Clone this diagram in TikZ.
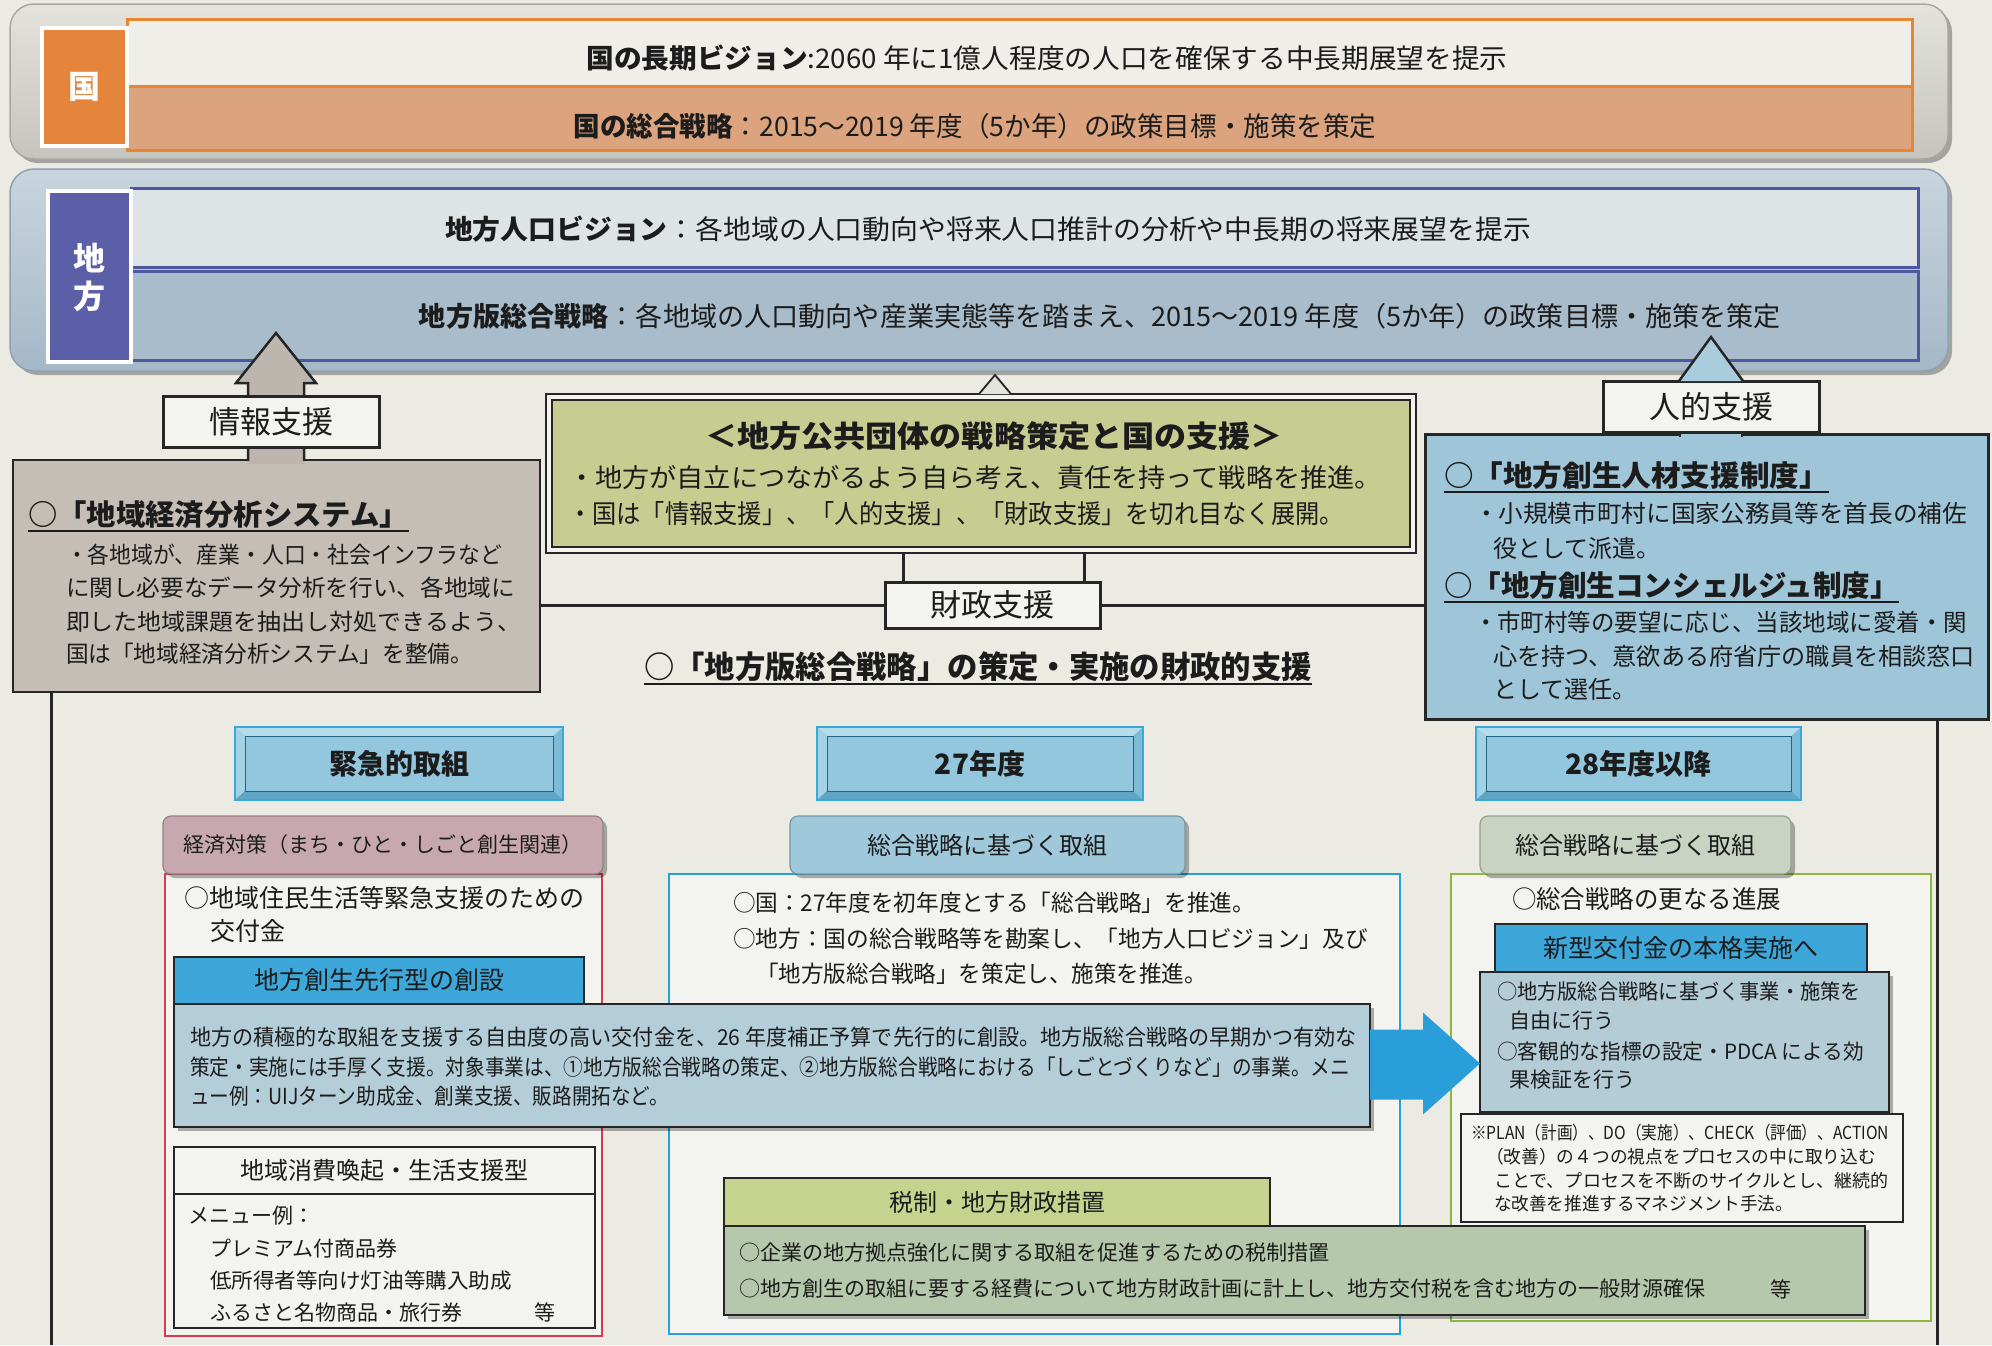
\documentclass[tikz,border=0pt]{standalone}
\usepackage{fontspec}
\usepackage{graphicx}
\setmainfont{Noto Sans CJK JP}
\usetikzlibrary{calc,fit,shadows}
\definecolor{paper}{HTML}{ECEBE3}
\definecolor{ink}{HTML}{1C1C1C}
\definecolor{dark}{HTML}{262626}
\definecolor{kpanelA}{HTML}{E4E2DC}
\definecolor{kpanelB}{HTML}{C6C4BE}
\definecolor{kpanelD}{HTML}{A9A7A2}
\definecolor{kwhite}{HTML}{EFEEE8}
\definecolor{korange}{HTML}{DCA47E}
\definecolor{orangeline}{HTML}{E8852F}
\definecolor{orangelbl}{HTML}{E5843B}
\definecolor{cpanelA}{HTML}{C8D5DE}
\definecolor{cpanelB}{HTML}{A5B8C8}
\definecolor{cpanelD}{HTML}{8DA1B3}
\definecolor{cwhite}{HTML}{DEE4E5}
\definecolor{cblue}{HTML}{A8BCCB}
\definecolor{cline}{HTML}{4D58A0}
\definecolor{purplelbl}{HTML}{5A5FA8}
\definecolor{graybox}{HTML}{C5BEB6}
\definecolor{grayarrow}{HTML}{BDB6AE}
\definecolor{greenbox}{HTML}{C7CD90}
\definecolor{tri}{HTML}{E4E6DC}
\definecolor{bluebox}{HTML}{9EC6D8}
\definecolor{jintri}{HTML}{A9CDDC}
\definecolor{btnouter}{HTML}{7DBAD6}
\definecolor{btnhi}{HTML}{B4DCEC}
\definecolor{btnlo}{HTML}{5FA6C6}
\definecolor{btninner}{HTML}{93C7DD}
\definecolor{btnborder}{HTML}{3AA8D9}
\definecolor{keizai}{HTML}{C8A8AF}
\definecolor{sogoA}{HTML}{9FC9DB}
\definecolor{sogoB}{HTML}{C8D3C4}
\definecolor{redline}{HTML}{D33C4E}
\definecolor{blueline}{HTML}{22A1DC}
\definecolor{greenline}{HTML}{8DB83E}
\definecolor{barblue}{HTML}{3DA7D9}
\definecolor{bigbox}{HTML}{B3CED8}
\definecolor{arrowblue}{HTML}{2A9ED8}
\definecolor{taxhd}{HTML}{C5D38E}
\definecolor{taxbox}{HTML}{B6C8AB}
\definecolor{boxB}{HTML}{B4CCD6}
\definecolor{notefill}{HTML}{F3F3EF}
\newcommand{\fsz}[1]{\fontsize{#1pt}{#1pt}\selectfont}
\newcommand{\fw}[2]{\resizebox{#1pt}{\height}{#2}}
\newcommand{\hbtn}[6]{%
  \fill[btnouter] (#2,#3) rectangle (#4,#5);
  \fill[btnhi] (#2,#3) -- (#4,#3) -- (#4-10,#3+9) -- (#2+10,#3+9) -- cycle;
  \fill[btnhi!70!btnouter] (#2,#3) -- (#2+10,#3+9) -- (#2+10,#5-9) -- (#2,#5) -- cycle;
  \fill[btnlo] (#2,#5) -- (#4,#5) -- (#4-10,#5-9) -- (#2+10,#5-9) -- cycle;
  \fill[btninner] (#2+10,#3+9) rectangle (#4-10,#5-9);
  \draw[btnborder, line width=2.5pt] (#2,#3) rectangle (#4,#5);
  \draw[btnborder!60!black, line width=0.6pt] (#2+10,#3+9) rectangle (#4-10,#5-9);
  \node[font=\fsz{28}\bfseries, text=ink] (#1) at ({(#2+#4)/2},{(#3+#5)/2}) {#6};
}
\begin{document}
\begin{tikzpicture}[x=1pt,y=-1pt,
  every node/.style={inner sep=0pt,outer sep=0pt},
  txt/.style={anchor=west,text=ink},
  ctr/.style={text=ink},
  conn/.style={draw=dark,line width=3pt},
  shd/.style={drop shadow={shadow xshift=4pt,shadow yshift=-4pt,fill=black,opacity=0.3}},
  lblbox/.style={fill=notefill,draw=dark,line width=3pt}]
\path[use as bounding box] (0,0) rectangle (1992,1345);
\fill[paper] (0,0) rectangle (1992,1345);

% ---------- 国 panel
\node[fit={(10,4)(1948,159)}, rounded corners=24pt, top color=kpanelA, bottom color=kpanelB, draw=kpanelD, line width=1.5pt, shd] (kunipanel) {};
\node[fit={(127,19)(1912,86)}, fill=kwhite, draw=orangeline, line width=3pt] (kunivision) {};
\node[fit={(127,86)(1912,150)}, fill=korange, draw=orangeline, line width=3pt] (kunisenryaku) {};
\node[fit={(42,28)(127,146)}, fill=orangelbl, draw=white, line width=4pt] (kunilbl) {};
\node[text=white, font=\fsz{32}\bfseries] (kunilblT) at (kunilbl.center) {国};
\node[ctr, font=\fsz{27}] (t1) at (1047,58) {\fw{921}{\textbf{国の長期ビジョン}:2060 年に1億人程度の人口を確保する中長期展望を提示}};
\node[ctr, font=\fsz{27}] (t2) at (975,126) {\fw{803}{\textbf{国の総合戦略}：2015～2019 年度（5か年）の政策目標・施策を策定}};

% ---------- 地方 panel
\node[fit={(10,169)(1948,371)}, rounded corners=24pt, top color=cpanelA, bottom color=cpanelB, draw=cpanelD, line width=1.5pt, shd] (chihopanel) {};
\node[fit={(131,188)(1918,267)}, fill=cwhite, draw=cline, line width=3pt] (chihovision) {};
\node[fit={(131,271)(1918,360)}, fill=cblue, draw=cline, line width=3pt] (chihosenryaku) {};
\node[fit={(48,191)(131,362)}, fill=purplelbl, draw=white, line width=4pt] (chiholbl) {};
\node[text=white, font=\fsz{32}\bfseries] (chiholblA) at (89,258) {地};
\node[text=white, font=\fsz{32}\bfseries] (chiholblB) at (89,296) {方};
\node[ctr, font=\fsz{27}] (t3) at (988,229) {\fw{1086}{\textbf{地方人口ビジョン}：各地域の人口動向や将来人口推計の分析や中長期の将来展望を提示}};
\node[ctr, font=\fsz{27}] (t4) at (1100,316) {\fw{1362}{\textbf{地方版総合戦略}：各地域の人口動向や産業実態等を踏まえ、2015～2019 年度（5か年）の政策目標・施策を策定}};

% ---------- 地域経済分析システム box
\node[fit={(13,460)(540,692)}, fill=graybox, draw=dark, line width=2.5pt] (chiiki) {};
\node[fit={(163,396)(379,447)}, draw=none] (infopos) {};
\fill[grayarrow] ($(infopos.north)+(-23,68)$) -- ($(infopos.north)+(-23,-13)$) -- ($(infopos.north)+(-35,-13)$) -- ($(infopos.north)+(5,-63)$) -- ($(infopos.north)+(45,-13)$) -- ($(infopos.north)+(33,-13)$) -- ($(infopos.north)+(33,68)$) -- cycle;
\draw[dark, line width=2.5pt] ($(infopos.north)+(-23,65)$) -- ($(infopos.north)+(-23,-13)$) -- ($(infopos.north)+(-35,-13)$) -- ($(infopos.north)+(5,-63)$) -- ($(infopos.north)+(45,-13)$) -- ($(infopos.north)+(33,-13)$) -- ($(infopos.north)+(33,65)$);
\node[fit={(163,396)(379,447)}, lblbox] (info) {};
\node[ctr, font=\fsz{31}] (infoT) at (info.center) {情報支援};
\node[txt, font=\fsz{29}\bfseries] (g0) at (28,515) {\fw{381}{○「地域経済分析システム」}};
\draw[ink, line width=2pt] ($(g0.south west)+(0,2)$) -- ($(g0.south east)+(0,2)$);
\node[txt, font=\fsz{23}] (g1) at (66,555) {\fw{436}{・各地域が、産業・人口・社会インフラなど}};
\node[txt, font=\fsz{23}] (g2) at (66,588) {\fw{449}{に関し必要なデータ分析を行い、各地域に}};
\node[txt, font=\fsz{23}] (g3) at (66,622) {\fw{455}{即した地域課題を抽出し対処できるよう、}};
\node[txt, font=\fsz{23}] (g4) at (66,654) {\fw{407}{国は「地域経済分析システム」を整備。}};

% ---------- 戦略策定 box
\node[fit={(546,394)(1416,553)}, fill=notefill, draw=dark, line width=2.5pt] (senryaku) {};
\filldraw[fill=greenbox, draw=dark, line width=2pt] ($(senryaku.north west)+(6,6)$) rectangle ($(senryaku.south east)+(-6,-6)$);
\filldraw[fill=tri, draw=dark, line width=1.8pt] ($(senryaku.north)+(-2,0)$) -- ($(senryaku.north)+(14,-19)$) -- ($(senryaku.north)+(30,0)$);
\node[ctr, font=\fsz{30}\bfseries] (s0) at (994,436) {\fw{578}{＜地方公共団体の戦略策定と国の支援＞}};
\node[txt, font=\fsz{26}] (s1) at (568,478) {\fw{814}{・地方が自立につながるよう自ら考え、責任を持って戦略を推進。}};
\node[txt, font=\fsz{26}] (s2) at (568,514) {\fw{776}{・国は「情報支援」、「人的支援」、「財政支援」を切れ目なく展開。}};

% ---------- 人的支援 box
\node[fit={(1425,434)(1988,719)}, fill=bluebox, draw=dark, line width=3pt] (jinzai) {};
\node[fit={(1603,381)(1819,432)}, lblbox] (jinteki) {};
\node[ctr, font=\fsz{31}] (jintekiT) at (jinteki.center) {人的支援};
\filldraw[fill=jintri, draw=dark, line width=2.5pt] ($(jinteki.north)+(-32,0)$) -- ($(jinteki.north)+(0,-44)$) -- ($(jinteki.north)+(32,0)$);
\fill[bluebox] ($(jinteki.south)+(-30,2)$) rectangle ($(jinteki.south)+(30,8)$);
\draw[dark, line width=2pt] ($(jinteki.south)+(-31,1)$) -- ($(jinteki.south)+(-31,5)$) ($(jinteki.south)+(31,1)$) -- ($(jinteki.south)+(31,5)$);
\node[txt, font=\fsz{29}\bfseries] (b0) at (1444,476) {\fw{385}{○「地方創生人材支援制度」}};
\draw[ink, line width=2pt] ($(b0.south west)+(0,2)$) -- ($(b0.south east)+(0,2)$);
\node[txt, font=\fsz{24}] (b1) at (1474,513) {\fw{493}{・小規模市町村に国家公務員等を首長の補佐}};
\node[txt, font=\fsz{24}] (b2) at (1493,548) {役として派遣。};
\node[txt, font=\fsz{29}\bfseries] (b3) at (1444,586) {\fw{455}{○「地方創生コンシェルジュ制度」}};
\draw[ink, line width=2pt] ($(b3.south west)+(0,2)$) -- ($(b3.south east)+(0,2)$);
\node[txt, font=\fsz{24}] (b4) at (1474,622) {\fw{493}{・市町村等の要望に応じ、当該地域に愛着・関}};
\node[txt, font=\fsz{24}] (b5) at (1493,656) {\fw{482}{心を持つ、意欲ある府省庁の職員を相談窓口}};
\node[txt, font=\fsz{24}] (b6) at (1493,689) {として選任。};

% ---------- 財政支援
\node[fit={(885,582)(1100,628)}, lblbox] (zaisei) {};
\node[ctr, font=\fsz{31}] (zaiseiT) at (zaisei.center) {財政支援};
\coordinate (zv1) at ($(zaisei.north west)+(18,0)$);
\coordinate (zv2) at ($(zaisei.north east)+(-16,0)$);
\draw[conn] (zv1) -- (zv1 |- senryaku.south);
\draw[conn] (zv2) -- (zv2 |- senryaku.south);
\draw[conn] (zaisei.west) -- (zaisei.west -| chiiki.east);
\draw[conn] (zaisei.east) -- (zaisei.east -| jinzai.west);
\coordinate (lvEnd) at (51,1345);
\coordinate (rvEnd) at (1937,1345);
\draw[conn] (lvEnd |- chiiki.south) -- (lvEnd);
\draw[conn] (rvEnd |- jinzai.south) -- (rvEnd);
\node[ctr, font=\fsz{31}\bfseries] (hd) at (978,667) {\fw{668}{○「地方版総合戦略」の策定・実施の財政的支援}};
\draw[ink, line width=2pt] ($(hd.south west)+(0,2)$) -- ($(hd.south east)+(0,2)$);

% ---------- column headers
\hbtn{kinkyu}{235}{727}{563}{800}{緊急的取組}
\hbtn{nendoA}{817}{727}{1143}{800}{27年度}
\hbtn{nendoB}{1476}{727}{1801}{800}{28年度以降}

% ---------- column boxes
\node[fit={(165,874)(602,1336)}, fill=notefill, draw=redline, line width=2pt] (colA) {};
\node[fit={(669,874)(1400,1334)}, fill=notefill, draw=blueline, line width=2.5pt] (colB) {};
\node[fit={(1451,874)(1931,1321)}, fill=notefill, draw=greenline, line width=2.5pt] (colC) {};
\node[fit={(163,816)(603,874)}, rounded corners=8pt, fill=keizai, draw=keizai!75!black, line width=1.2pt, shd] (keizaiN) {};
\node[ctr, font=\fsz{21}] (keizaiT) at (keizaiN.center) {\fw{398}{経済対策（まち・ひと・しごと創生関連）}};
\node[fit={(790,816)(1185,874)}, rounded corners=8pt, fill=sogoA, draw=sogoA!75!black, line width=1.2pt, shd] (sogoAN) {};
\node[ctr, font=\fsz{24}] (sogoAT) at (sogoAN.center) {総合戦略に基づく取組};
\node[fit={(1480,816)(1791,874)}, rounded corners=8pt, fill=sogoB, draw=sogoB!75!black, line width=1.2pt, shd] (sogoBN) {};
\node[ctr, font=\fsz{24}] (sogoBT) at (sogoBN.center) {総合戦略に基づく取組};

% ---------- left column
\node[txt, font=\fsz{25}] (la) at (184,898) {\fw{400}{○地域住民生活等緊急支援のための}};
\node[txt, font=\fsz{25}] (lb) at (210,931) {交付金};
\node[fit={(174,957)(584,1004)}, fill=barblue, draw=dark, line width=2.5pt] (senko) {};
\node[ctr, font=\fsz{25}] (senkoT) at (senko.center) {地方創生先行型の創設};

% ---------- 27 column texts
\node[txt, font=\fsz{23}] (c1) at (733,903) {\fw{522}{○国：27年度を初年度とする「総合戦略」を推進。}};
\node[txt, font=\fsz{23}] (c2) at (733,939) {\fw{635}{○地方：国の総合戦略等を勘案し、「地方人口ビジョン」及び}};
\node[txt, font=\fsz{23}] (c3) at (756,974) {\fw{451}{「地方版総合戦略」を策定し、施策を推進。}};

% ---------- big box
\node[fit={(174,1004)(1370,1127)}, fill=bigbox, draw=dark, line width=2.5pt, shd] (bigb) {};
\node[txt, font=\fsz{22}] (bb1) at (190,1037) {\fw{1167}{地方の積極的な取組を支援する自由度の高い交付金を、26 年度補正予算で先行的に創設。地方版総合戦略の早期かつ有効な}};
\node[txt, font=\fsz{22}] (bb2) at (190,1067) {\fw{1160}{策定・実施には手厚く支援。対象事業は、①地方版総合戦略の策定、②地方版総合戦略における「しごとづくりなど」の事業。メニ}};
\node[txt, font=\fsz{22}] (bb3) at (190,1096) {\fw{479}{ュー例：UIJターン助成金、創業支援、販路開拓など。}};

% ---------- 28 column
\node[txt, font=\fsz{25}] (d1) at (1512,899) {\fw{269}{○総合戦略の更なる進展}};
\node[fit={(1495,924)(1867,972)}, fill=barblue, draw=dark, line width=2.5pt] (shingata) {};
\node[ctr, font=\fsz{25}] (shingataT) at (shingata.center) {新型交付金の本格実施へ};
\node[fit={(1480,972)(1889,1112)}, fill=boxB, draw=dark, line width=2.5pt, shd] (boxC) {};
\node[txt, font=\fsz{21}] (e1) at (1497,992) {\fw{364}{○地方版総合戦略に基づく事業・施策を}};
\node[txt, font=\fsz{21}] (e2) at (1509,1021) {自由に行う};
\node[txt, font=\fsz{21}] (e3) at (1497,1052) {\fw{367}{○客観的な指標の設定・PDCA による効}};
\node[txt, font=\fsz{21}] (e4) at (1509,1080) {果検証を行う};
\node[fit={(1461,1114)(1903,1222)}, fill=notefill, draw=dark, line width=2pt] (note) {};
\node[txt, font=\fsz{18}] (n1) at (1471,1133) {\fw{418}{※PLAN（計画）、DO（実施）、CHECK（評価）、ACTION}};
\node[txt, font=\fsz{18}] (n2) at (1486,1157) {\fw{390}{（改善）の４つの視点をプロセスの中に取り込む}};
\node[txt, font=\fsz{18}] (n3) at (1494,1181) {\fw{395}{ことで、プロセスを不断のサイクルとし、継続的}};
\node[txt, font=\fsz{18}] (n4) at (1494,1204) {\fw{299}{な改善を推進するマネジメント手法。}};

% ---------- blue arrow
\fill[arrowblue] ($(bigb.east)+(0,-36)$) -- ($(bigb.east)+(53,-36)$) -- ($(bigb.east)+(53,-53)$) -- ($(bigb.east)+(110,-2)$ |- boxC.west) -- ($(bigb.east)+(53,49)$) -- ($(bigb.east)+(53,34)$) -- ($(bigb.east)+(0,34)$) -- cycle;

% ---------- 地域消費喚起 box
\node[fit={(174,1147)(595,1328)}, fill=notefill, draw=dark, line width=2pt] (shohi) {};
\node[fit={(174,1147)(595,1194)}, draw=dark, line width=2.5pt] (shohihd) {};
\node[ctr, font=\fsz{24}] (shohiT) at (shohihd.center) {地域消費喚起・生活支援型};
\node[txt, font=\fsz{21}] (m0) at (188,1216) {メニュー例：};
\node[txt, font=\fsz{21}] (m1) at (210,1249) {プレミアム付商品券};
\node[txt, font=\fsz{21}] (m2) at (210,1281) {\fw{302}{低所得者等向け灯油等購入助成}};
\node[txt, font=\fsz{21}] (m3) at (210,1312) {ふるさと名物商品・旅行券};
\node[txt, font=\fsz{21}] (m4) at (534,1312) {等};

% ---------- tax
\node[fit={(724,1226)(1865,1315)}, fill=taxbox, draw=dark, line width=2.5pt, shd] (tax) {};
\node[fit={(724,1178)(1270,1226)}, fill=taxhd, draw=dark, line width=2.5pt] (taxhdn) {};
\node[ctr, font=\fsz{24}] (taxhdT) at (taxhdn.center) {税制・地方財政措置};
\node[txt, font=\fsz{21}] (x1) at (739,1253) {\fw{591}{○企業の地方拠点強化に関する取組を促進するための税制措置}};
\node[txt, font=\fsz{21}] (x2) at (739,1289) {\fw{966}{○地方創生の取組に要する経費について地方財政計画に計上し、地方交付税を含む地方の一般財源確保}};
\node[txt, font=\fsz{21}] (x3) at (1770,1289) {等};
\end{tikzpicture}
\end{document}
